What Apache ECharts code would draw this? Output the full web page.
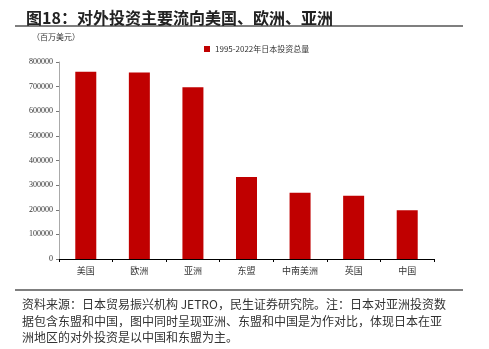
<!DOCTYPE html>
<html><head><meta charset="utf-8">
<script src="https://cdn.jsdelivr.net/npm/echarts@6/dist/echarts.min.js"></script>
<style>html,body{margin:0;padding:0;background:#fff}#c{width:489px;height:349px}</style>
</head><body><div id="c"></div>
<script>
const categories = ['美国','欧洲','亚洲','东盟','中南美洲','英国','中国'];
const values = [760000, 757000, 697000, 333000, 269000, 257000, 198000];
const seriesName = '1995-2022年日本投资总量';
const unitLabel = '（百万美元）';
const titleText = '图18：对外投资主要流向美国、欧洲、亚洲';
const footLines = [
  '资料来源：日本贸易振兴机构 JETRO，民生证券研究院。注：日本对亚洲投资数',
  '据包含东盟和中国，图中同时呈现亚洲、东盟和中国是为作对比，体现日本在亚',
  '洲地区的对外投资是以中国和东盟为主。'
];
const chart = echarts.init(document.getElementById('c'));
const cjk = '"Noto Sans CJK SC", sans-serif';
chart.setOption({
  animation:false,
  backgroundColor:'#fff',
  title:{text:titleText,left:21,top:5,textStyle:{fontFamily:cjk,fontSize:16,fontWeight:'bold',color:'#222'}},
  legend:{data:[seriesName],left:199,top:40,itemWidth:6,itemHeight:6,itemGap:3,icon:'rect',
    textStyle:{fontFamily:cjk,fontSize:8,color:'#333'}},
  grid:{left:59,right:55,top:62,bottom:90},
  xAxis:{type:'category',data:categories,
    axisLine:{lineStyle:{color:'#000',width:1}},
    axisTick:{show:true,lineStyle:{color:'#000'},length:3},
    axisLabel:{fontFamily:cjk,fontSize:9,color:'#333',margin:7}},
  yAxis:{type:'value',min:0,max:800000,interval:100000,
    axisLine:{show:true,lineStyle:{color:'#aaa',width:1}},
    axisTick:{show:true,lineStyle:{color:'#777'},length:3},
    splitLine:{show:false},
    axisLabel:{fontFamily:'"Liberation Serif", serif',fontSize:8,color:'#333',margin:6,formatter:v=>String(v)}},
  series:[{name:seriesName,type:'bar',data:values,barWidth:21,itemStyle:{color:'#c00000'}}],
  graphic:[
    {type:'line',shape:{x1:15,y1:26,x2:463,y2:26},style:{stroke:'#555',lineWidth:1.5}},
    {type:'text',left:32,top:33,style:{text:unitLabel,fontFamily:cjk,fontSize:8,fill:'#333'}},
    {type:'line',shape:{x1:15,y1:290,x2:463,y2:290},style:{stroke:'#555',lineWidth:1.5}},
    {type:'text',left:22,top:296,style:{text:footLines.join('\n'),fontFamily:cjk,fontSize:12,lineHeight:16.7,fill:'#333'}}
  ]
});
</script></body></html>
